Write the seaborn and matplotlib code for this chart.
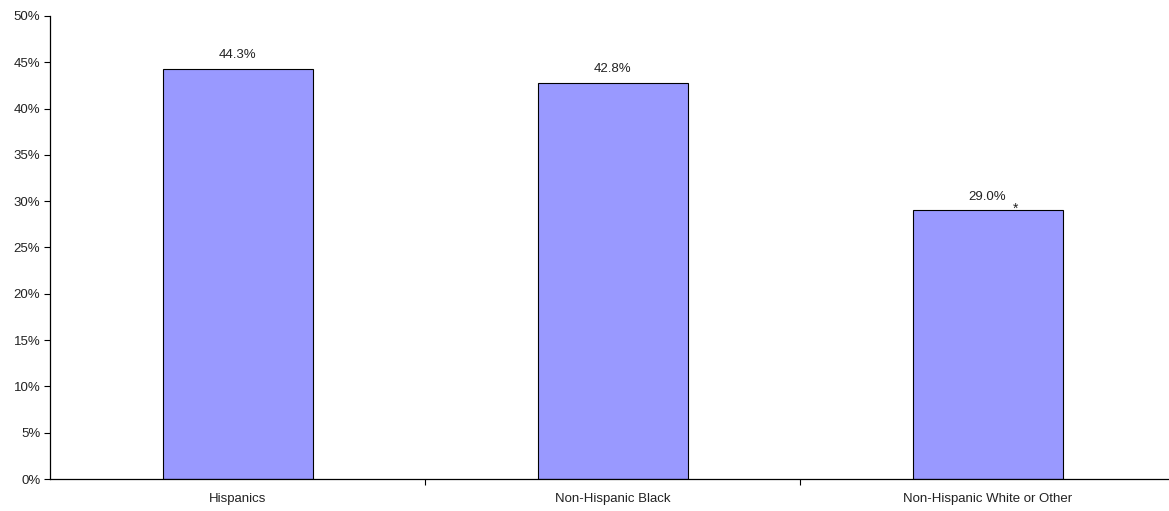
import matplotlib
matplotlib.use("Agg")
import matplotlib.pyplot as plt
import seaborn as sns
import pandas as pd
from matplotlib.ticker import FuncFormatter, FixedLocator

categories = ["Hispanics", "Non-Hispanic Black", "Non-Hispanic White or Other"]
values = [44.3, 42.8, 29.0]
value_labels = ["44.3%", "42.8%", "29.0%"]
marker_text = ["", "", "*"]

sns.set_theme(style="white")
plt.rcParams["font.family"] = ["Liberation Sans", "DejaVu Sans"]

df = pd.DataFrame({"group": categories, "pct": values})

fig = plt.figure(figsize=(11.69, 5.11), dpi=100)
ax = fig.add_axes([50 / 1169, 32 / 511, 1125 / 1169, 463 / 511])

sns.barplot(data=df, x="group", y="pct", color="#9999FF", edgecolor="black",
            linewidth=0.8, width=0.4, saturation=1, ax=ax)

ax.set_ylim(0, 50)
ax.set_xlim(-0.5, 2.5)
ax.set_yticks(range(0, 51, 5))
ax.yaxis.set_major_formatter(FuncFormatter(lambda v, _: f"{int(v)}%"))
ax.set_xlabel("")
ax.set_ylabel("")

for s in ["top", "right"]:
    ax.spines[s].set_visible(False)
for s in ["left", "bottom"]:
    ax.spines[s].set_color("black")
    ax.spines[s].set_linewidth(0.9)

ax.tick_params(axis="y", which="major", direction="out", length=4, width=0.8,
               color="black", labelsize=9.5, labelcolor="#222222", pad=3, left=True)
ax.tick_params(axis="x", which="major", length=0, labelsize=9.5,
               labelcolor="#222222", pad=10)
ax.xaxis.set_minor_locator(FixedLocator([0.5, 1.5]))
ax.tick_params(axis="x", which="minor", direction="out", length=4, width=0.8,
               color="black", bottom=True)

for i, (v, lab, mk) in enumerate(zip(values, value_labels, marker_text)):
    ax.text(i, v + 0.8, lab, ha="center", va="bottom", fontsize=9.5, color="#222222")
    if mk:
        ax.text(i + 0.075, v - 0.6, mk, ha="center", va="bottom", fontsize=10,
                color="#222222")

fig.savefig("out.png", dpi=100)
